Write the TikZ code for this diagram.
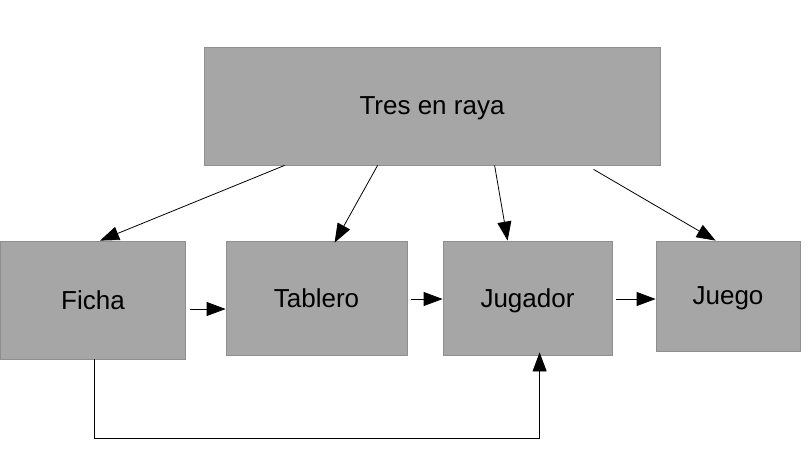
\documentclass[tikz,border=0pt]{standalone}
\usepackage{fontspec}
\setmainfont{Liberation Sans}
\usetikzlibrary{arrows.meta,calc}
\usepackage{xcolor}
\definecolor{boxfill}{HTML}{A6A6A6}
\definecolor{boxline}{HTML}{8F8F8F}

\begin{document}
\begin{tikzpicture}[
  x=1pt,y=-1pt,
  module/.style={draw=boxline,fill=boxfill,line width=0.8pt,inner sep=0pt,
    minimum width=#1,text depth=0pt,font=\fontsize{26}{30}\selectfont},
  link/.style={line width=0.8pt,-{Triangle[length=19pt,width=14pt]}},
]
  \useasboundingbox (0,0) rectangle (808,469);

  \node[module=456pt,minimum height=118pt] (tres) at (432,106) {Tres en raya};
  \node[module=185pt,minimum height=118pt] (ficha) at (93,300) {Ficha};
  \node[module=181pt,minimum height=114pt] (tablero) at (316.5,298) {Tablero};
  \node[module=169pt,minimum height=114pt] (jugador) at (527.5,298) {Jugador};
  \node[module=144pt,minimum height=110pt] (juego) at (728,296) {Juego};

  % From the game to its parts
  \draw[link] ([xshift=81]tres.south west) -- ([xshift=100]ficha.north west);
  \draw[link] ([xshift=174]tres.south west) -- ([shift={(109,2)}]tablero.north west);
  \draw[link] ([xshift=291]tres.south west) -- ([xshift=65]jugador.north west);
  \draw[link] ([shift={(390,4)}]tres.south west) -- ([xshift=60]juego.north west);

  % Chain along the row
  \draw[link] ([shift={(4,9)}]ficha.east) -- ([shift={(0,11)}]tablero.west);
  \draw[link] ([shift={(4,1)}]tablero.east) -- ([shift={(0,1)}]jugador.west);
  \draw[link] ([shift={(4,1)}]jugador.east) -- ([shift={(0,3)}]juego.west);

  % Ficha back to Jugador
  \draw[link] ([xshift=94]ficha.south west) -- ++(0,79)
    -| ([shift={(97,-3)}]jugador.south west);
\end{tikzpicture}
\end{document}
